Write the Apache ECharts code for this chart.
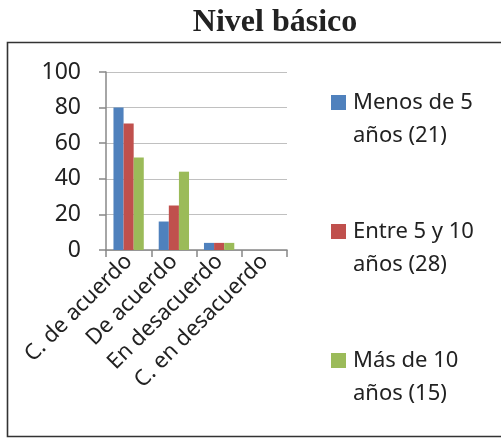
<!DOCTYPE html>
<html>
<head>
<meta charset="utf-8">
<script src="https://cdn.jsdelivr.net/npm/echarts@6/dist/echarts.min.js"></script>
<style>
  html, body { margin: 0; padding: 0; background: #fff; }
  #chart { width: 501px; height: 440px; }
</style>
</head>
<body>
<div id="chart"></div>
<script>
const categories = ["C. de acuerdo", "De acuerdo", "En desacuerdo", "C. en desacuerdo"]
const seriesNames = ["Menos de 5\naños (21)", "Entre 5 y 10\naños (28)", "Más de 10\naños (15)"]
const menos5 = [80, 16, 4, 0]
const entre5y10 = [71, 25, 4, 0]
const mas10 = [52, 44, 4, 0]
const yTicks = [0, 20, 40, 60, 80, 100]

const colors = ["#4F81BD", "#C0504D", "#9BBB59"]
const font = "'Noto Sans', sans-serif"

const chart = echarts.init(document.getElementById("chart"))
const values = [menos5, entre5y10, mas10]

const option = {
  animation: false,
  title: {
    text: "Nivel básico",
    left: 270,
    textAlign: "center",
    top: 2,
    textStyle: {
      fontFamily: "'Liberation Serif', serif",
      fontWeight: "bold",
      fontSize: 32,
      color: "#222"
    }
  },
  graphic: [
    {
      type: "rect",
      shape: { x: 7.5, y: 42.5, width: 520, height: 394 },
      style: { fill: "none", stroke: "#333", lineWidth: 1.6 },
      silent: true
    }
  ],
  legend: {
    orient: "vertical",
    left: 331,
    top: 53,
    padding: 0,
    itemWidth: 15,
    itemHeight: 15,
    itemGap: 30,
    selectedMode: false,
    icon: "rect",
    data: seriesNames,
    formatter: (name) => " \n" + name,
    textStyle: {
      fontFamily: font,
      fontSize: 22,
      lineHeight: 33,
      color: "#222",
      padding: [0, 0, 0, 2]
    }
  },
  grid: {
    left: 106,
    right: 214,
    top: 72,
    bottom: 190
  },
  xAxis: {
    type: "category",
    data: categories,
    axisLine: { lineStyle: { color: "#888", width: 1.5 } },
    axisTick: { show: true, length: 7, lineStyle: { color: "#888", width: 1.5 } },
    axisLabel: {
      rotate: 45,
      interval: 0,
      margin: 8,
      fontFamily: font,
      fontSize: 22,
      color: "#222"
    }
  },
  yAxis: {
    type: "value",
    min: 0,
    max: 100,
    interval: 20,
    axisLine: { show: true, lineStyle: { color: "#888", width: 1.5 } },
    axisTick: { show: true, length: 7, lineStyle: { color: "#888", width: 1.5 } },
    axisLabel: {
      margin: 25,
      fontFamily: font,
      fontSize: 23,
      color: "#222",
      formatter: (v) => (yTicks.includes(v) ? String(v) : "")
    },
    splitLine: { lineStyle: { color: "#c0c0c0", width: 1.2 } }
  },
  series: seriesNames.map((name, i) => ({
    name: name,
    type: "bar",
    data: values[i],
    barGap: "0%",
    barCategoryGap: "33%",
    itemStyle: { color: colors[i] }
  }))
}

chart.setOption(option)
</script>
</body>
</html>
